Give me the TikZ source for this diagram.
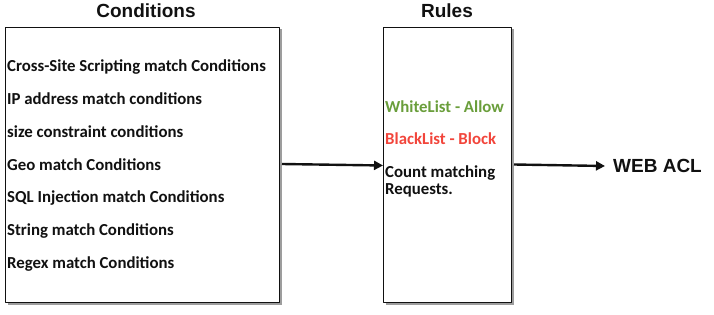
\documentclass[tikz,border=0pt]{standalone}
\usepackage{fontspec}
\setmainfont{Carlito}
\newfontfamily\headfont{Liberation Sans}
\usepackage{xcolor}
\usetikzlibrary{arrows.meta,positioning,shadows}
\definecolor{ink}{HTML}{111111}
\definecolor{allowgreen}{HTML}{6A9E3B}
\definecolor{blockred}{HTML}{F2453B}
\tikzset{
    every picture/.style={line cap=round,line join=round},
    listbox/.style={draw=ink,fill=white,line width=0.9pt,
      drop shadow={shadow xshift=2.5pt,shadow yshift=-2.5pt,fill=black!55,opacity=0.7},
      inner sep=0pt,outer sep=0pt},
    heading/.style={font=\headfont\bfseries\fontsize{19}{21}\selectfont,
      text=ink,inner sep=0pt},
    item/.style={font=\bfseries\fontsize{16.8}{17}\selectfont,text=ink,
      inner sep=0pt,anchor=base west,align=left},
    flowarrow/.style={-{Triangle[length=9pt,width=9pt]},draw=ink,line width=2.4pt,
      line cap=butt}
}

\begin{document}
\begin{tikzpicture}[x=1pt,y=-1pt]
  \useasboundingbox (0,0) rectangle (714,315);
  % boxes
  \node[listbox,minimum width=274pt,minimum height=275pt] (cond) at (142,164.5) {};
  \node[listbox,minimum width=128pt,minimum height=275pt] (rules) at (447,164.5) {};
  \node[heading,above=9.5pt of cond,xshift=4pt] (condtitle) {Conditions};
  \node[heading,above=9.5pt of rules] (rulestitle) {Rules};
  % conditions list
  \foreach \txt [count=\i from 0] in {Cross-Site Scripting match Conditions,
      IP address match conditions,size constraint conditions,Geo match Conditions,
      SQL Injection match Conditions,String match Conditions,Regex match Conditions}
    \node[item] (c\i) at (7,72+32.7*\i) {\txt};
  % rules list
  \node[item,text=allowgreen] (allow) at (385,113) {WhiteList - Allow};
  \node[item,text=blockred] (block) at (385,145) {BlackList - Block};
  \node[item,anchor=north west] (count) at (385,166) {Count matching\\Requests.};
  \node[heading,anchor=west] (web) at (613,166) {WEB ACL};
  % connectors
  \draw[flowarrow] ([xshift=3pt,yshift=0.5pt]cond.east) -- ([yshift=-1pt]rules.west);
  \draw[flowarrow] ([xshift=3pt]rules.east) -- ([xshift=-8pt]web.west);
\end{tikzpicture}
\end{document}
